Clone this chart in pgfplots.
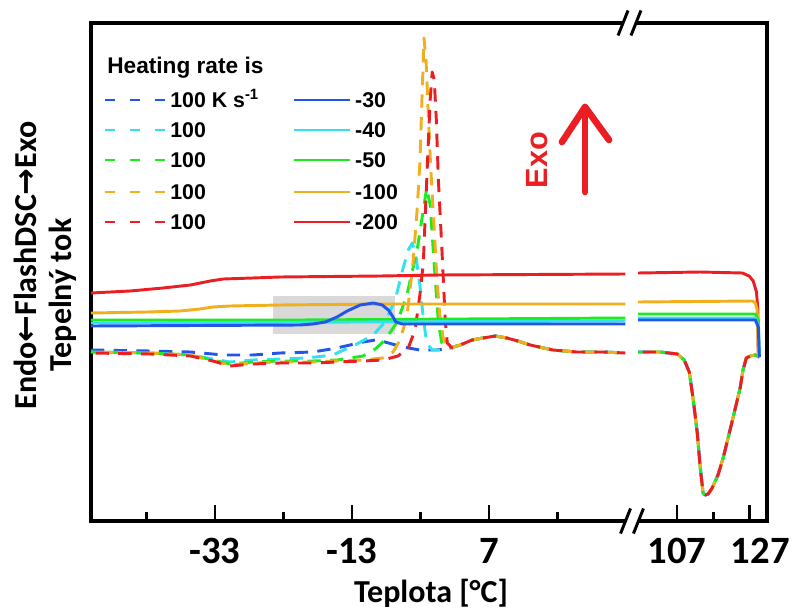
\documentclass[border=0pt]{standalone}
\usepackage{fontspec}
\setmainfont{Carlito}
\newfontfamily\arialfont{Liberation Sans}
\newfontfamily\symfont{DejaVu Sans}
\usepackage{pgfplots}
\pgfplotsset{compat=1.18}
\usetikzlibrary{calc}

\definecolor{cblue}{RGB}{35,85,235}
\definecolor{ccyan}{RGB}{50,225,235}
\definecolor{cgreen}{RGB}{30,235,30}
\definecolor{corange}{RGB}{240,175,30}
\definecolor{cred}{RGB}{235,30,35}
\definecolor{cgray}{RGB}{217,217,217}

\begin{document}
\begin{tikzpicture}
\begin{axis}[
  scale only axis,
  width=507pt, height=373.5pt,
  % broken temperature axis: 94.7..131.8 C is compressed next to -51.1..27.9 C
  x coord trafo/.code={\pgfmathparse{#1>60 ? 27.9+(#1-94.7)*0.53 : #1}},
  x coord inv trafo/.code={\pgfmathparse{#1>27.9 ? 94.7+(#1-27.9)/0.53 : #1}},
  xmin=-51.1, xmax=131.8,
  ymin=0, ymax=498,
  ytick=\empty,
  xtick pos=left,
  xtick={-33,-13,7,107},
  xticklabels={-33,-13,7,107},
  minor xtick={-43,-23,-3,17,117},
  extra x ticks={127},
  extra x tick labels={127},
  extra x tick style={xticklabel style={xshift=8pt}},
  xticklabel style={font=\bfseries\fontsize{29}{29}\selectfont, yshift=-9.5pt},
  major tick length=12pt, minor tick length=6.5pt,
  tick style={black, line width=2pt},
  axis line style={line width=3pt},
  unbounded coords=jump,
  clip=false,
  every axis plot/.append style={line width=2.2pt, line join=round},
]
% highlighted region
\fill[cgray] (rel axis cs:0.2692,0.3755) rectangle (rel axis cs:0.4497,0.4518);

% heating scans, 100 K/s
\addplot[cblue, dash pattern=on 10pt off 7pt, dash phase=0pt] coordinates {
(-51.1,171) (-42.5,170) (-36.6,169) (-31.8,166) (-27.5,166) (-23.5,168)
(-18.7,169) (-15.2,173) (-11.4,179) (-9.6,181) (-8.2,179) (-5.6,174)
(-3.1,171) (-0.6,171)
(1.3,173) (2.8,176) (4.5,181) (6.1,183) (7.9,185) (9.6,183) (11.2,180)
(13.0,176) (16.3,171) (19.8,169) (23.6,169) (26.9,168) (27.4,nan)
(96.3,169) (102.4,169) (107.1,167) (109.0,161) (110.4,149) (111.5,121)
(112.6,88) (113.4,54) (114.2,28) (114.8,26) (115.6,27) (116.7,33)
(118.4,47) (119.8,64) (122.5,104) (124.4,133) (125.2,151) (126.1,163)
(127.2,165) (128.6,166) (129.7,164)
};
\addplot[ccyan, dash pattern=on 10pt off 7pt, dash phase=3.4pt] coordinates {
(-51.1,169) (-42.5,168) (-36.6,166) (-33.3,162) (-30.8,159) (-27.5,161)
(-23.5,162) (-19.6,163) (-15.8,166) (-12.3,177) (-9.9,186) (-8.2,199)
(-6.7,221) (-5.7,249) (-4.8,271) (-4.2,278) (-3.7,266) (-3.1,236)
(-2.6,203) (-2.1,178) (-1.3,171) (-0.2,171)
(1.3,173) (2.8,176) (4.5,181) (6.1,183) (7.9,185) (9.6,183) (11.2,180)
(13.0,176) (16.3,171) (19.8,169) (23.6,169) (26.9,168) (27.4,nan)
(96.3,169) (102.4,169) (107.1,167) (109.0,161) (110.4,149) (111.5,121)
(112.6,88) (113.4,54) (114.2,28) (114.8,26) (115.6,27) (116.7,33)
(118.4,47) (119.8,64) (122.5,104) (124.4,133) (125.2,151) (126.1,163)
(127.2,165) (128.6,166) (129.7,164)
};
\addplot[cgreen, dash pattern=on 10pt off 7pt, dash phase=6.8pt] coordinates {
(-51.1,169) (-42.5,168) (-36.6,166) (-33.3,161) (-30.8,157) (-27.5,159)
(-23.5,160) (-18.7,160) (-15.2,161) (-11.4,165) (-9.6,172) (-8.2,181)
(-6.4,199) (-5.0,226) (-3.5,271) (-2.6,311) (-2.1,333) (-1.6,316)
(-1.0,256) (-0.4,199) (0.1,178)
(1.3,173) (2.8,176) (4.5,181) (6.1,183) (7.9,185) (9.6,183) (11.2,180)
(13.0,176) (16.3,171) (19.8,169) (23.6,169) (26.9,168) (27.4,nan)
(96.3,169) (102.4,169) (107.1,167) (109.0,161) (110.4,149) (111.5,121)
(112.6,88) (113.4,54) (114.2,28) (114.8,26) (115.6,27) (116.7,33)
(118.4,47) (119.8,64) (122.5,104) (124.4,133) (125.2,151) (126.1,163)
(127.2,165) (128.6,166) (129.7,164)
};
\addplot[corange, dash pattern=on 10pt off 7pt, dash phase=10.2pt] coordinates {
(-51.1,169) (-42.5,168) (-36.6,166) (-33.3,160) (-30.8,156) (-27.5,158)
(-23.5,159) (-18.7,159) (-15.2,160) (-11.4,161) (-8.5,163) (-7.0,169)
(-6.0,181) (-5.0,204) (-4.1,258) (-3.5,311) (-3.1,358) (-2.8,421)
(-2.5,483) (-2.2,461) (-1.9,411) (-1.5,351) (-1.0,291) (-0.6,241)
(-0.2,206) (0.3,183) (0.9,174)
(1.3,173) (2.8,176) (4.5,181) (6.1,183) (7.9,185) (9.6,183) (11.2,180)
(13.0,176) (16.3,171) (19.8,169) (23.6,169) (26.9,168) (27.4,nan)
(96.3,169) (102.4,169) (107.1,167) (109.0,161) (110.4,149) (111.5,121)
(112.6,88) (113.4,54) (114.2,28) (114.8,26) (115.6,27) (116.7,33)
(118.4,47) (119.8,64) (122.5,104) (124.4,133) (125.2,151) (126.1,163)
(127.2,165) (128.6,166) (129.7,164)
};
\addplot[cred, dash pattern=on 10pt off 7pt, dash phase=13.6pt] coordinates {
(-51.1,168) (-42.5,167) (-36.6,165) (-33.3,160) (-30.8,155) (-27.5,157)
(-23.5,158) (-18.7,158) (-15.2,159) (-11.4,160) (-8.5,161) (-6.3,165)
(-4.8,173) (-3.8,191) (-3.1,226) (-2.6,258) (-2.1,341) (-1.6,421)
(-1.3,449) (-1.0,441) (-0.7,401) (-0.4,341) (0.1,274) (0.6,201)
(0.9,178) (1.6,173)
(2.8,176) (4.5,181) (6.1,183) (7.9,185) (9.6,183) (11.2,180)
(13.0,176) (16.3,171) (19.8,169) (23.6,169) (26.9,168) (27.4,nan)
(96.3,169) (102.4,169) (107.1,167) (109.0,161) (110.4,149) (111.5,121)
(112.6,88) (113.4,54) (114.2,28) (114.8,26) (115.6,27) (116.7,33)
(118.4,47) (119.8,64) (122.5,104) (124.4,133) (125.2,151) (126.1,163)
(127.2,165) (128.6,166) (129.7,164)
};

% cooling scans
\addplot[cred] coordinates {
(-51.1,228) (-45.4,230) (-40.6,233) (-36.6,236) (-33.7,240) (-31.8,242)
(-27.5,243) (-23.5,244) (-8.9,245) (-0.2,246) (26.9,247) (27.4,nan)
(96.3,248) (113.4,249) (125.0,248) (126.9,245) (128.0,240) (128.9,229)
(129.3,211) (129.4,164)
};
\addplot[corange] coordinates {
(-51.1,208) (-42.9,209) (-38.1,210) (-35.2,212) (-33.3,214) (-30.8,215)
(-23.5,216) (-8.9,217) (26.9,217) (27.4,nan)
(96.3,219) (127.8,220) (128.6,218) (129.1,211) (129.4,164)
};
\addplot[cgreen] coordinates {
(-51.1,201) (-20.6,201) (26.9,203) (27.4,nan)
(96.3,207) (128.6,207) (129.4,201) (129.7,164)
};
\addplot[ccyan] coordinates {
(-51.1,198) (26.9,200) (27.4,nan)
(96.3,203) (128.6,203) (129.4,196) (129.7,164)
};
\addplot[cblue] coordinates {
(-51.1,195) (-20.6,196) (-18.7,197) (-16.9,199) (-15.2,204) (-13.7,210)
(-11.8,216) (-9.9,218) (-8.6,216) (-7.7,211) (-7.1,205) (-6.6,199)
(-5.7,197) (26.9,197) (27.4,nan)
(96.3,201) (128.6,201) (129.4,194) (129.7,164)
};

% legend
\node[anchor=base west, inner sep=0pt, yshift=-6.1pt,
  font=\arialfont\bfseries\fontsize{17}{17}\selectfont]
  at (rel axis cs:0.0237,0.9157) {Heating rate is};
\begin{scope}[line width=2.2pt]
\draw[cblue,   dash pattern=on 7.5pt off 11.25pt] (rel axis cs:0.0207,0.8454) -- (rel axis cs:0.1095,0.8454);
\draw[ccyan,   dash pattern=on 7.5pt off 11.25pt] (rel axis cs:0.0207,0.7851) -- (rel axis cs:0.1095,0.7851);
\draw[cgreen,  dash pattern=on 7.5pt off 11.25pt] (rel axis cs:0.0207,0.7249) -- (rel axis cs:0.1095,0.7249);
\draw[corange, dash pattern=on 7.5pt off 11.25pt] (rel axis cs:0.0207,0.6606) -- (rel axis cs:0.1095,0.6606);
\draw[cred,    dash pattern=on 7.5pt off 11.25pt] (rel axis cs:0.0207,0.6004) -- (rel axis cs:0.1095,0.6004);
\draw[cblue]   (rel axis cs:0.3003,0.8454) -- (rel axis cs:0.3831,0.8454);
\draw[ccyan]   (rel axis cs:0.3003,0.7851) -- (rel axis cs:0.3831,0.7851);
\draw[cgreen]  (rel axis cs:0.3003,0.7249) -- (rel axis cs:0.3831,0.7249);
\draw[corange] (rel axis cs:0.3003,0.6606) -- (rel axis cs:0.3831,0.6606);
\draw[cred]    (rel axis cs:0.3003,0.6004) -- (rel axis cs:0.3831,0.6004);
\end{scope}
\begin{scope}[every node/.style={anchor=base west, inner sep=0pt, yshift=-5.7pt,
  font=\arialfont\bfseries\fontsize{16}{16}\selectfont}]
\node at (rel axis cs:0.1169,0.8454) {100 K s\textsuperscript{-1}};
\node at (rel axis cs:0.1169,0.7851) {100};
\node at (rel axis cs:0.1169,0.7249) {100};
\node at (rel axis cs:0.1169,0.6606) {100};
\node at (rel axis cs:0.1169,0.6004) {100};
\node at (rel axis cs:0.3905,0.8454) {-30};
\node at (rel axis cs:0.3905,0.7851) {-40};
\node at (rel axis cs:0.3905,0.7249) {-50};
\node at (rel axis cs:0.3905,0.6606) {-100};
\node at (rel axis cs:0.3905,0.6004) {-200};
\end{scope}

% exotherm direction
\draw[cred, line width=5pt, line cap=round] (rel axis cs:0.7308,0.6606) -- (rel axis cs:0.7308,0.8313);
\draw[cred, line width=5pt, line cap=round, line join=round]
  (rel axis cs:0.6967,0.7610) -- (rel axis cs:0.7308,0.8313) -- (rel axis cs:0.7663,0.7651);
\node[cred, rotate=90, font=\arialfont\bfseries\fontsize{23}{23}\selectfont]
  at (rel axis cs:0.6598,0.7249) {Exo};

\coordinate (sw) at (rel axis cs:0,0);
\coordinate (xl) at (rel axis cs:0.503,0);
\coordinate (yl1) at (rel axis cs:0,0.513);
\coordinate (yl2) at (rel axis cs:0,0.4538);
\coordinate (tb) at (rel axis cs:0.7966,1);
\coordinate (bb) at (rel axis cs:0.8003,0);
\end{axis}

% axis titles
\node[font=\bfseries\fontsize{24}{24}\selectfont] at ($(xl)+(0,-54pt)$) {Teplota [°C]};
\node[rotate=90, font=\bfseries\fontsize{24}{24}\selectfont] at ($(yl1)+(-49.5pt,0)$)
  {Endo{\symfont←}FlashDSC{\symfont→}Exo};
\node[rotate=90, font=\bfseries\fontsize{24}{24}\selectfont] at ($(yl2)+(-21pt,0)$)
  {Tepelný tok};

% axis break marks
\foreach \c in {tb,bb}{
  \fill[white] ($(\c)+(-4.9pt,-2.6pt)$) rectangle ($(\c)+(4.9pt,2.6pt)$);
  \draw[line width=2.2pt] ($(\c)+(-8.6pt,-9.4pt)$) -- ($(\c)+(-1.1pt,9.4pt)$);
  \draw[line width=2.2pt] ($(\c)+(1.1pt,-9.4pt)$) -- ($(\c)+(8.6pt,9.4pt)$);
}

\pgfresetboundingbox
\path ($(sw)+(-68.25pt,-68.25pt)$) rectangle ($(sw)+(527.25pt,390.75pt)$);
\end{tikzpicture}
\end{document}
